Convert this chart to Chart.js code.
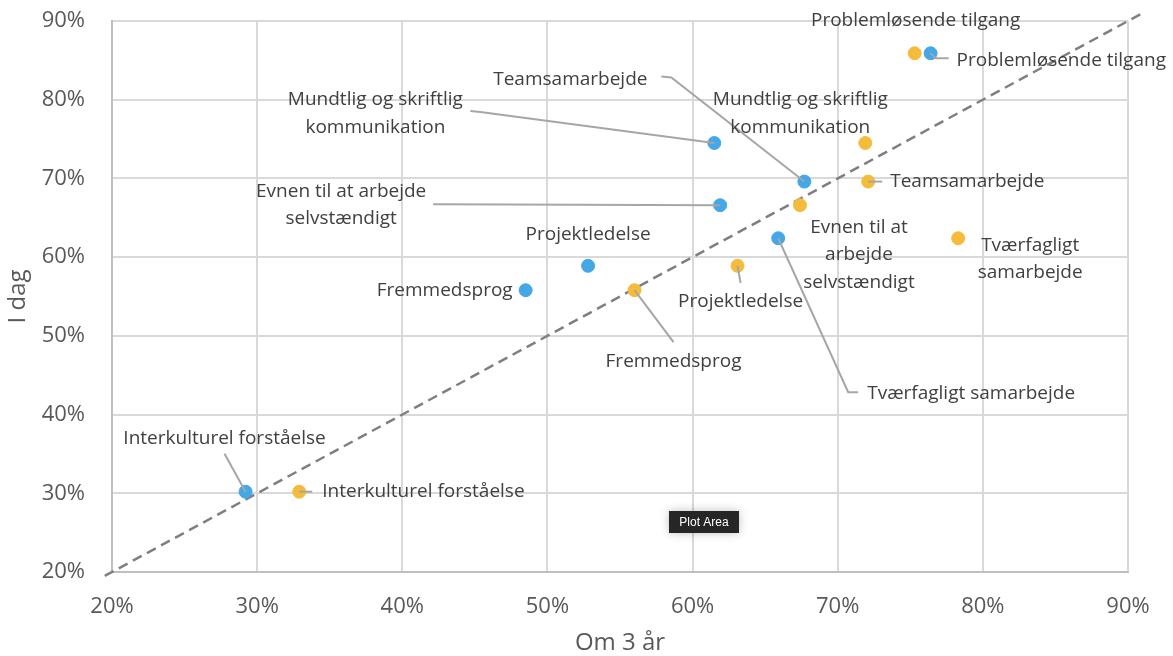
<!DOCTYPE html>
<html lang="da">
<head>
  <meta charset="UTF-8" />
  <title>I dag vs. om 3 år</title>
  <script src="https://cdn.jsdelivr.net/npm/chart.js"></script>
  <style>
    body {
      margin: 0;
      background: #ffffff;
    }
    .wrap {
      width: 1173px;
      height: 656px;
    }
  </style>
</head>
<body>
  <div class="wrap">
    <canvas id="chart" width="1173" height="656"></canvas>
  </div>

  <script>
    // data (percent)
    const skills = [
      'Problemløsende tilgang',
      'Teamsamarbejde',
      'Mundtlig og skriftlig kommunikation',
      'Evnen til at arbejde selvstændigt',
      'Tværfagligt samarbejde',
      'Projektledelse',
      'Fremmedsprog',
      'Interkulturel forståelse'
    ];
    const iDag = [85.9, 69.6, 74.5, 66.6, 62.4, 58.9, 55.8, 30.2];
    const blueOm3 = [76.4, 67.7, 61.5, 61.9, 65.9, 52.8, 48.5, 29.2];
    const orangeOm3 = [75.3, 72.1, 71.9, 67.4, 78.3, 63.1, 56.0, 32.9];
    const axisTicks = [20, 30, 40, 50, 60, 70, 80, 90];

    const BLUE = '#45A7E6';
    const ORANGE = '#F5BC3C';

    // label placement, pixel offsets from the point (index matches skills)
    const blueLabels = [
      { lines: ['Problemløsende tilgang'], dx: 26, dy: 7, align: 'left', leader: [[5, 5], [18, 5]] },
      { lines: ['Teamsamarbejde'], dx: -234, dy: -102, align: 'center', leader: [[-133, -104], [-143, -105]] },
      { lines: ['Mundtlig og skriftlig', 'kommunikation'], dx: -339, dy: -43, align: 'center', leader: [[-234, -31], [-244, -32]] },
      { lines: ['Evnen til at arbejde', 'selvstændigt'], dx: -379, dy: -14, align: 'center', leader: [[-287, -1]] },
      { lines: ['Tværfagligt samarbejde'], dx: 89, dy: 155, align: 'left', leader: [[70, 154], [80, 154]] },
      { lines: ['Projektledelse'], dx: 0, dy: -31, align: 'center' },
      { lines: ['Fremmedsprog'], dx: -13, dy: 0, align: 'right' },
      { lines: ['Interkulturel forståelse'], dx: -21, dy: -53, align: 'center', leader: [[-21, -38]] }
    ];
    const orangeLabels = [
      { lines: ['Problemløsende tilgang'], dx: 1, dy: -33, align: 'center' },
      { lines: ['Teamsamarbejde'], dx: 22, dy: 0, align: 'left', leader: [[14, 0]] },
      { lines: ['Mundtlig og skriftlig', 'kommunikation'], dx: -65, dy: -43, align: 'center' },
      { lines: ['Evnen til at', 'arbejde', 'selvstændigt'], dx: 59, dy: 22, align: 'center' },
      { lines: ['Tværfagligt', 'samarbejde'], dx: 72, dy: 7, align: 'center' },
      { lines: ['Projektledelse'], dx: 3, dy: 36, align: 'center', leader: [[3, 17]] },
      { lines: ['Fremmedsprog'], dx: 39, dy: 71, align: 'center', leader: [[39, 52]] },
      { lines: ['Interkulturel forståelse'], dx: 23, dy: 0, align: 'left', leader: [[13, 0]] }
    ];

    const FONT = '"Open Sans", "Liberation Sans", sans-serif';

    const labelPlugin = {
      id: 'pointLabels',
      afterDatasetsDraw(chart) {
        const ctx = chart.ctx;
        const sets = [
          { meta: chart.getDatasetMeta(1), labels: blueLabels },
          { meta: chart.getDatasetMeta(2), labels: orangeLabels }
        ];
        ctx.save();
        // leader lines
        ctx.strokeStyle = '#A6A6A6';
        ctx.lineWidth = 2;
        sets.forEach(s => {
          s.meta.data.forEach((pt, i) => {
            const l = s.labels[i];
            if (!l.leader) return;
            ctx.beginPath();
            ctx.moveTo(pt.x, pt.y);
            l.leader.forEach(p => ctx.lineTo(pt.x + p[0], pt.y + p[1]));
            ctx.stroke();
          });
        });
        // text
        ctx.font = '19px ' + FONT;
        ctx.fillStyle = '#404040';
        ctx.textBaseline = 'middle';
        sets.forEach(s => {
          s.meta.data.forEach((pt, i) => {
            const l = s.labels[i];
            ctx.textAlign = l.align;
            l.lines.forEach((t, k) => {
              ctx.fillText(t, pt.x + l.dx, pt.y + l.dy + k * 27.5);
            });
          });
        });

        // the "Plot Area" hover tag seen in the picture
        const a = chart.chartArea;
        const bx = a.left + 557, by = a.bottom - 61;
        ctx.shadowColor = 'rgba(0,0,0,0.25)';
        ctx.shadowBlur = 10;
        ctx.fillStyle = '#262626';
        ctx.fillRect(bx, by, 70, 22);
        ctx.shadowBlur = 0;
        ctx.fillStyle = '#ffffff';
        ctx.font = '12px "Liberation Sans", sans-serif';
        ctx.textAlign = 'center';
        ctx.fillText('Plot Area', bx + 35, by + 11.5);
        ctx.restore();
      }
    };

    const tickColor = '#595959';

    new Chart(document.getElementById('chart'), {
      type: 'scatter',
      data: {
        datasets: [
          {
            type: 'line',
            label: 'diagonal',
            data: [{ x: 19.5, y: 19.5 }, { x: 90.9, y: 90.9 }],
            borderColor: '#7F7F7F',
            borderWidth: 2.5,
            borderDash: [10, 6],
            pointRadius: 0,
            clip: false,
            order: 3
          },
          {
            label: 'blue',
            data: skills.map((s, i) => ({ x: blueOm3[i], y: iDag[i] })),
            backgroundColor: BLUE,
            borderColor: BLUE,
            pointRadius: 6.5,
            order: 1
          },
          {
            label: 'orange',
            data: skills.map((s, i) => ({ x: orangeOm3[i], y: iDag[i] })),
            backgroundColor: ORANGE,
            borderColor: ORANGE,
            pointRadius: 6.5,
            order: 2
          }
        ]
      },
      options: {
        responsive: false,
        animation: false,
        layout: { padding: { left: 0, right: 45, top: 21, bottom: 0 } },
        plugins: {
          legend: { display: false },
          tooltip: { enabled: false }
        },
        scales: {
          x: {
            type: 'linear',
            min: 20,
            max: 90,
            afterBuildTicks: axis => { axis.ticks = axisTicks.map(v => ({ value: v })); },
            afterFit: axis => {
              axis.height = 84;
              axis.paddingLeft = 0;
              axis.paddingRight = 0;
            },
            ticks: {
              callback: v => v + '%',
              color: tickColor,
              font: { family: FONT, size: 22 },
              padding: 22
            },
            grid: { color: '#D9D9D9', lineWidth: 2, drawTicks: false },
            border: { color: '#BFBFBF', width: 2 },
            title: {
              display: true,
              text: 'Om 3 år',
              color: tickColor,
              font: { family: FONT, size: 24, lineHeight: 1.05 },
              padding: { top: 4, bottom: 0 }
            }
          },
          y: {
            type: 'linear',
            min: 20,
            max: 90,
            afterBuildTicks: axis => { axis.ticks = axisTicks.map(v => ({ value: v })); },
            afterFit: axis => {
              axis.width = 112;
              axis.paddingTop = 0;
              axis.paddingBottom = 0;
            },
            ticks: {
              callback: v => v + '%',
              color: tickColor,
              font: { family: FONT, size: 22 },
              padding: 27
            },
            grid: { color: '#D9D9D9', lineWidth: 2, drawTicks: false },
            border: { color: '#BFBFBF', width: 2 },
            title: {
              display: true,
              text: 'I dag',
              color: tickColor,
              font: { family: FONT, size: 24 },
              padding: { top: 4, bottom: 0 }
            }
          }
        }
      },
      plugins: [labelPlugin]
    });
  </script>
</body>
</html>
